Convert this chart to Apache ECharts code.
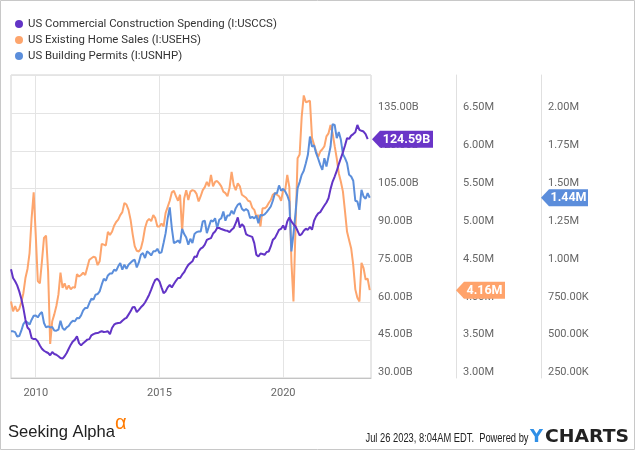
<!DOCTYPE html>
<html>
<head>
<meta charset="utf-8">
<script src="https://cdn.jsdelivr.net/npm/echarts@6/dist/echarts.min.js"></script>
<style>
html,body{margin:0;padding:0;background:#fff;}
#c{width:635px;height:450px;}
</style>
</head>
<body>
<div id="c"></div>
<script>
// Monthly observations; point i sits at startYear + i/12 (month-end dates)
const startYear = 2009;
const xTicks = [2010, 2015, 2020];
const seriesNames = [
  'US Commercial Construction Spending (I:USCCS)',
  'US Existing Home Sales (I:USEHS)',
  'US Building Permits (I:USNHP)'
];
// Billions USD
const commercial = [
  73.1,69.6,68.3,66.7,64.3,61.4,57.7,53.1,50.0,49.1,45.8,45.4,
  45.4,44.5,42.9,41.6,40.8,40.3,39.9,39.0,40.3,39.5,39.2,38.6,
  37.9,37.7,38.6,39.9,41.6,43.2,44.5,45.2,46.5,43.8,42.9,43.8,
  44.5,45.2,45.4,46.9,47.4,47.7,47.8,48.2,48.5,48.2,48.3,48.5,
  47.4,49.8,51.1,51.6,51.8,51.9,52.7,53.4,53.8,55.1,56.4,58.0,
  58.1,56.1,57.0,58.0,58.8,59.9,61.4,63.0,65.0,67.2,68.9,69.3,
  68.3,65.9,63.6,64.3,65.9,66.9,65.9,67.2,68.5,69.6,69.6,70.9,
  71.9,73.5,74.8,75.5,76.2,78.1,77.9,80.1,81.2,81.7,82.8,84.7,
  85.1,85.4,87.2,88.0,89.4,89.4,89.0,88.7,88.4,88.3,87.8,88.7,
  89.4,91.3,93.6,89.6,90.9,90.0,87.0,86.5,86.2,85.9,83.4,78.8,
  78.1,79.3,79.1,78.8,79.9,80.1,82.1,84.7,85.4,87.0,88.7,89.1,
  90.4,88.7,92.0,93.6,92.0,90.9,90.0,88.3,86.5,87.0,88.3,89.1,
  88.7,89.9,88.7,92.3,94.0,95.2,95.7,97.0,98.3,99.5,101.2,104.9,
  107.8,109.8,112.0,114.7,117.1,119.4,122.1,125.0,124.7,126.0,126.6,127.3,
  130.2,128.3,127.9,127.6,126.6,124.59
];
// Millions of units (SAAR)
const homeSales = [
  4.01,3.88,3.95,3.88,3.91,4.00,4.12,4.32,4.44,4.65,5.11,5.45,
  4.89,4.28,4.25,4.54,4.85,4.88,4.41,3.45,3.75,3.84,3.95,4.10,
  4.39,4.19,4.25,4.17,4.22,4.17,4.20,4.19,4.37,4.34,4.36,4.39,
  4.36,4.46,4.56,4.58,4.60,4.59,4.49,4.54,4.77,4.76,4.75,4.93,
  4.89,4.93,5.01,5.06,5.09,5.15,5.19,5.31,5.29,5.22,5.09,4.90,
  4.74,4.68,4.67,4.71,4.82,4.98,5.07,5.10,5.07,5.15,5.11,5.00,
  5.00,5.04,5.00,5.18,5.26,5.34,5.45,5.47,5.40,5.34,5.42,4.93,
  5.37,5.48,5.35,5.46,5.48,5.47,5.43,5.33,5.40,5.48,5.52,5.59,
  5.53,5.68,5.53,5.59,5.60,5.57,5.53,5.46,5.44,5.40,5.51,5.72,
  5.55,5.48,5.57,5.53,5.42,5.40,5.38,5.34,5.33,5.25,5.22,5.13,
  5.15,5.00,5.24,5.24,5.26,5.31,5.35,5.42,5.44,5.42,5.40,5.34,
  5.48,5.48,5.68,5.52,4.54,4.01,4.98,5.90,5.95,6.45,6.73,6.64,
  6.65,6.66,6.17,6.08,5.99,5.92,5.99,6.02,6.06,6.19,6.23,6.34,
  6.23,6.06,5.90,5.70,5.59,5.46,5.20,4.93,4.82,4.71,4.49,4.17,
  4.06,4.01,4.52,4.45,4.30,4.31,4.16
];
// Thousands of units (SAAR)
const permits = [
  558,558,553,523,527,562,606,624,617,602,635,661,
  663,650,672,685,613,584,591,584,586,564,562,569,
  628,580,567,584,593,615,628,624,646,644,663,696,
  712,712,745,773,767,800,804,822,866,905,892,927,
  940,940,965,958,987,1009,965,998,971,998,1011,1024,
  1031,980,1013,1064,1075,1042,1086,1075,1059,1086,1086,1103,
  1075,1079,1141,1206,1305,1376,1240,1141,1147,1158,1141,1235,
  1200,1178,1130,1169,1141,1200,1213,1217,1217,1283,1288,1206,
  1250,1290,1283,1305,1239,1294,1305,1349,1288,1323,1323,1354,
  1332,1371,1393,1404,1367,1354,1365,1354,1305,1314,1303,1323,
  1272,1327,1323,1330,1345,1363,1382,1420,1470,1470,1521,1486,
  1499,1481,1455,1415,1086,1200,1338,1503,1543,1591,1618,1668,
  1723,1844,1778,1785,1734,1697,1657,1624,1701,1646,1712,1778,
  1926,1921,1833,1873,1822,1728,1701,1668,1591,1580,1552,1420,
  1415,1360,1492,1448,1433,1470,1440
];
const colors = ['#6234c6', '#fda56d', '#5b8edb'];

const toPairs = arr => arr.map((v, i) => [startYear + i / 12, v]);
const FONT = 'Roboto';
const chart = echarts.init(document.getElementById('c'));

const labelBase = {
  fontFamily: FONT, fontSize: 11, color: '#666',
  verticalAlign: 'bottom', margin: 7, showMaxLabel: false, showMinLabel: true
};

const option = {
  animation: false,
  backgroundColor: '#fff',
  color: colors,
  legend: {
    orient: 'vertical', left: 15, top: 18, itemWidth: 8, itemHeight: 8, itemGap: 4,
    icon: 'circle', padding: 0,
    textStyle: { fontFamily: FONT, fontSize: 11.4, color: '#333', lineHeight: 12 },
    data: seriesNames
  },
  grid: { left: 11, right: 264, top: 75, bottom: 72, show: true, borderColor: '#d0d0d0', borderWidth: 1, containLabel: false },
  xAxis: {
    type: 'value', min: startYear, max: 2023.551,
    axisLine: { show: true, lineStyle: { color: '#c4c4c4' } },
    axisTick: { show: false, customValues: xTicks },
    axisLabel: { customValues: xTicks, fontFamily: FONT, fontSize: 11, color: '#666', margin: 10, formatter: v => String(Math.round(v)) },
    splitLine: { show: true, lineStyle: { color: '#e4e4e4' } }
  },
  yAxis: [
    {
      type: 'value', position: 'right', offset: 0, min: 30, max: 150, interval: 15,
      axisLine: { show: false }, axisTick: { show: false },
      splitLine: { show: true, lineStyle: { color: '#e4e4e4' } },
      axisLabel: Object.assign({}, labelBase, { formatter: v => v.toFixed(2) + 'B' })
    },
    {
      type: 'value', position: 'right', offset: 85, min: 3, max: 7, interval: 0.5,
      axisLine: { show: true, lineStyle: { color: '#e0e0e0' } }, axisTick: { show: false },
      splitLine: { show: false },
      axisLabel: Object.assign({}, labelBase, { formatter: v => v.toFixed(2) + 'M' })
    },
    {
      type: 'value', position: 'right', offset: 170, min: 250, max: 2250, interval: 250,
      axisLine: { show: true, lineStyle: { color: '#e0e0e0' } }, axisTick: { show: false },
      splitLine: { show: false },
      axisLabel: Object.assign({}, labelBase, {
        formatter: v => v >= 1000 ? (v / 1000).toFixed(2) + 'M' : v.toFixed(2) + 'K'
      })
    }
  ],
  series: [
    { name: seriesNames[0], type: 'line', yAxisIndex: 0, data: toPairs(commercial), showSymbol: false, lineStyle: { width: 2 }, z: 3 },
    { name: seriesNames[1], type: 'line', yAxisIndex: 1, data: toPairs(homeSales), showSymbol: false, lineStyle: { width: 2 }, z: 2 },
    { name: seriesNames[2], type: 'line', yAxisIndex: 2, data: toPairs(permits), showSymbol: false, lineStyle: { width: 2 }, z: 2 }
  ]
};
chart.setOption(option);

// measurement helper for footer text widths
const mctx = document.createElement('canvas').getContext('2d');
function fit(text, font, width) { mctx.font = font; return width / mctx.measureText(text).width; }

function badge(axisIdx, val, text, color, tipX, width) {
  const y = chart.convertToPixel({ yAxisIndex: axisIdx }, val);
  const h = 8.5, sh = 8;
  return [
    { type: 'polygon', z: 100, shape: { points: [[tipX, y], [tipX + sh, y - h], [tipX + width, y - h], [tipX + width, y + h], [tipX + sh, y + h]] }, style: { fill: color } },
    { type: 'text', z: 101, x: tipX + sh + (width - sh) / 2, y: y + 0.5, style: { text: text, fill: '#fff', font: 'bold 12.5px Roboto', align: 'center', verticalAlign: 'middle' } }
  ];
}

const lastC = commercial[commercial.length - 1];
const lastH = homeSales[homeSales.length - 1];
const lastP = permits[permits.length - 1];
const gridRightX = 635 - 264;

const fSA = '17px "Liberation Sans"';
const fDate = '12px "Liberation Sans"';
const fYC = 'bold 17px "DejaVu Sans"';
const dateText = 'Jul 26 2023, 8:04AM EDT.  Powered by';

const graphics = [].concat(
  badge(0, lastC, lastC.toFixed(2) + 'B', '#6a35c8', gridRightX + 1, 61),
  badge(1, lastH, lastH.toFixed(2) + 'M', '#ffa36b', gridRightX + 85, 49),
  badge(2, lastP, (lastP / 1000).toFixed(2) + 'M', '#5b8ddb', gridRightX + 170, 47),
  [
    { type: 'rect', z: 200, silent: true, shape: { x: 0.5, y: 0.5, width: 634, height: 449 }, style: { fill: null, stroke: '#c8c8c8', lineWidth: 1 } },
    { type: 'text', x: 8, y: 432.5, scaleX: fit('Seeking Alpha', fSA, 107), style: { text: 'Seeking Alpha', font: fSA, fill: '#222', verticalAlign: 'middle' } },
    { type: 'text', x: 115, y: 423, style: { text: 'α', font: '20px "Liberation Sans"', fill: '#ff7a00', verticalAlign: 'middle' } },
    { type: 'text', x: 365.5, y: 438.5, scaleX: fit(dateText, fDate, 163), style: { text: dateText, font: fDate, fill: '#222', verticalAlign: 'middle' } },
    { type: 'text', x: 530, y: 437.5, scaleX: fit('Y', fYC, 13), style: { text: 'Y', font: fYC, fill: '#2f8fe6', verticalAlign: 'middle' } },
    { type: 'text', x: 545, y: 437.5, scaleX: fit('CHARTS', fYC, 84), style: { text: 'CHARTS', font: fYC, fill: '#222', verticalAlign: 'middle' } }
  ]
);
chart.setOption({ graphic: graphics });
</script>
</body>
</html>
